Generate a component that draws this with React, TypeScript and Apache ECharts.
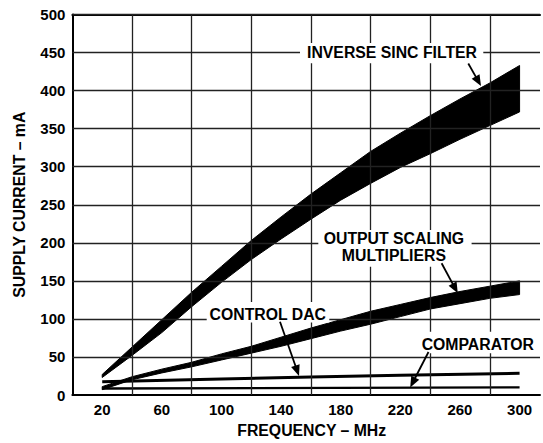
import React, { useEffect, useRef } from "react";
import * as echarts from "echarts";

// ---- data ----
const freq = [20, 40, 60, 80, 100, 120, 140, 160, 180, 200, 220, 240, 260, 280, 300];
const inverseSincLow = [23, 52, 82, 116, 148, 178, 205, 231, 256, 278, 299, 317, 336, 354, 372];
const inverseSincHigh = [27, 63, 99, 135, 169, 203, 234, 264, 292, 320, 344, 367, 389, 410, 433];
const outputScalingLow = [7, 20, 29, 37, 46, 55, 64, 74, 84, 93, 103, 113, 120, 127, 132];
const outputScalingHigh = [11, 24, 34, 43, 54, 64, 76, 88, 99, 110, 119, 128, 136, 143, 150];
const controlDacFreq = [20, 100, 160, 220, 300];
const controlDac = [17.5, 21, 23.5, 26, 28.5];
const comparatorFreq = [20, 300];
const comparator = [8.5, 10];
const xTickLabels = [20, 60, 100, 140, 180, 220, 260, 300];
const xGridValues = [40, 80, 120, 160, 200, 240, 280];
const yGridValues = [50, 100, 150, 200, 250, 300, 350, 400, 450, 500];

const FONT = '"Liberation Sans", Arial, Helvetica, sans-serif';

// annotation layout (pixels)
const annotations = [
  { text: "INVERSE SINC FILTER", cx: 392, cy: 52.5, box: [300, 43, 483.3, 63.3], arrow: [468.3, 63.5, 481, 86] },
  { text: "OUTPUT SCALING\nMULTIPLIERS", cx: 393.9, cy: 247, box: [318.3, 230, 471.6, 266.7], arrow: [441.6, 263.3, 457.8, 293.3] },
  { text: "CONTROL DAC", cx: 267.8, cy: 314.5, box: [206.7, 302, 329.3, 322.6], arrow: [280, 321.7, 299, 376] },
  { text: "COMPARATOR", cx: 477.8, cy: 344, box: [415, 331.7, 541, 353.3], arrow: [428.5, 352, 410.2, 387.5] },
];

function arrowEls(x1: number, y1: number, x2: number, y2: number) {
  const dx = x2 - x1, dy = y2 - y1;
  const len = Math.hypot(dx, dy);
  const ux = dx / len, uy = dy / len;
  const hl = 11, hw = 4.5;
  const bx = x2 - ux * hl, by = y2 - uy * hl;
  return [
    { type: "line", z: 100, shape: { x1, y1, x2: bx + ux * 2, y2: by + uy * 2 }, style: { stroke: "#000", lineWidth: 1.8 } },
    {
      type: "polygon", z: 100,
      shape: { points: [[x2, y2], [bx - uy * hw, by + ux * hw], [bx + uy * hw, by - ux * hw]] },
      style: { fill: "#000" },
    },
  ];
}

function bandSeries(name: string, low: number[], high: number[]) {
  return {
    type: "custom",
    name,
    xAxisIndex: 0,
    yAxisIndex: 0,
    silent: true,
    z: 3,
    data: [[freq[0], low[0]]],
    renderItem: (_params: any, api: any) => {
      const pts: number[][] = [];
      for (let i = 0; i < freq.length; i++) pts.push(api.coord([freq[i], high[i]]));
      for (let i = freq.length - 1; i >= 0; i--) pts.push(api.coord([freq[i], low[i]]));
      return {
        type: "polygon",
        shape: { points: pts },
        style: { fill: "#000", stroke: "#000", lineWidth: 1 },
      };
    },
  };
}

const X_MAX = 313.7;

export default function App() {
  const ref = useRef<HTMLDivElement>(null);
  useEffect(() => {
    if (!ref.current) return;
    const chart = echarts.init(ref.current, null, { renderer: "svg" });
    const graphic: any[] = [];
    annotations.forEach((a) => {
      graphic.push({
        type: "rect", z: 99,
        shape: { x: a.box[0], y: a.box[1], width: a.box[2] - a.box[0], height: a.box[3] - a.box[1] },
        style: { fill: "#fff" },
      });
    });
    annotations.forEach((a) => {
      graphic.push({
        type: "text", z: 101, x: a.cx, y: a.cy,
        style: {
          text: a.text, fill: "#000", fontFamily: FONT, fontWeight: "bold", fontSize: 15.8,
          lineHeight: 17.7, align: "center", verticalAlign: "middle",
        },
      });
      graphic.push(...arrowEls(a.arrow[0], a.arrow[1], a.arrow[2], a.arrow[3]));
    });

    chart.setOption({
      animation: false,
      backgroundColor: "#fff",
      grid: { left: 72.4, top: 14.5, right: 0, bottom: 45.4, containLabel: false },
      xAxis: [
        {
          type: "value", min: 0, max: X_MAX, interval: 40,
          axisLine: { show: true, lineStyle: { color: "#000", width: 2 } },
          axisTick: { show: false },
          axisLabel: { show: false },
          splitLine: { show: false },
        },
        {
          type: "value", min: 0, max: X_MAX, interval: 20, position: "bottom",
          axisLine: { show: false },
          axisTick: { show: false },
          splitLine: { show: false },
          axisLabel: {
            show: true, margin: 7, color: "#000", fontFamily: FONT, fontWeight: "bold", fontSize: 15,
            formatter: (v: number) => (xTickLabels.indexOf(v) >= 0 ? String(v) : ""),
          },
          name: "FREQUENCY – MHz",
          nameLocation: "middle",
          nameGap: 27,
          nameTextStyle: { color: "#000", fontFamily: FONT, fontWeight: "bold", fontSize: 15.8, padding: [0, 0, 0, 11] },
        },
        {
          type: "value", min: 0, max: X_MAX, position: "top",
          axisLine: { show: true, lineStyle: { color: "#000", width: 2 } },
          axisTick: { show: false },
          axisLabel: { show: false },
          splitLine: { show: false },
        },
      ],
      yAxis: {
        type: "value", min: 0, max: 500, interval: 50,
        axisLine: { show: true, lineStyle: { color: "#000", width: 2 } },
        axisTick: { show: false },
        splitLine: { show: false },
        axisLabel: { margin: 7, color: "#000", fontFamily: FONT, fontWeight: "bold", fontSize: 15 },
        name: "SUPPLY CURRENT – mA",
        nameLocation: "middle",
        nameGap: 45,
        nameRotate: 90,
        nameTextStyle: { color: "#000", fontFamily: FONT, fontWeight: "bold", fontSize: 15.8 },
      },
      series: [
        {
          type: "line", name: "grid", xAxisIndex: 0, yAxisIndex: 0, silent: true, z: 1,
          data: [],
          markLine: {
            silent: true,
            symbol: ["none", "none"],
            label: { show: false },
            lineStyle: { color: "#222", width: 1.3, type: "solid" },
            emphasis: { disabled: true },
            data: [
              ...xGridValues.map((v) => ({ xAxis: v })),
              ...yGridValues.map((v) => ({ yAxis: v })),
            ],
          },
        },
        bandSeries("Inverse Sinc Filter", inverseSincLow, inverseSincHigh),
        bandSeries("Output Scaling Multipliers", outputScalingLow, outputScalingHigh),
        {
          type: "line", name: "Control DAC", xAxisIndex: 0, silent: true, z: 4,
          data: controlDacFreq.map((f, i) => [f, controlDac[i]]),
          symbol: "none", lineStyle: { color: "#000", width: 3 },
        },
        {
          type: "line", name: "Comparator", xAxisIndex: 0, silent: true, z: 4,
          data: comparatorFreq.map((f, i) => [f, comparator[i]]),
          symbol: "none", lineStyle: { color: "#000", width: 2.4 },
        },
      ],
      graphic,
    });
    return () => chart.dispose();
  }, []);
  return <div ref={ref} style={{ position: "fixed", left: 0, top: 0, width: 543, height: 443 }} />;
}
